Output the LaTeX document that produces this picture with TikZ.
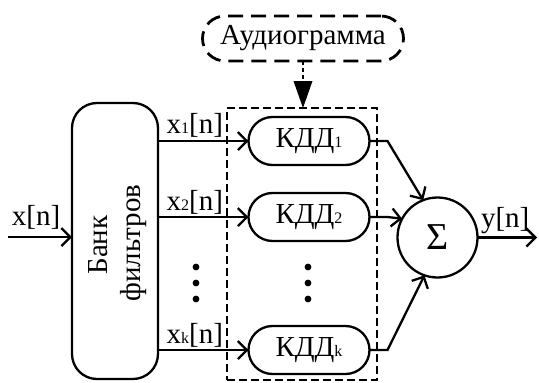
\documentclass[tikz,border=0pt]{standalone}
\usepackage{fontspec}
\setmainfont{Liberation Serif}
\usetikzlibrary{arrows.meta,calc}
\newcommand\smallsub[1]{{\fontsize{16}{16}\selectfont #1}}
\begin{document}
\begin{tikzpicture}[x=1pt,y=-1pt,
  every node/.style={font=\fontsize{29}{33}\selectfont, inner sep=0pt, outer sep=0pt},
  main/.style={line width=2.3pt},
  arr/.style={main, -{Straight Barb[length=9pt,width=18pt]}},
  kdd/.style={draw, line width=2.3pt, minimum width=121pt, minimum height=48pt, rounded corners=24pt},
  fbank/.style={draw, line width=2.3pt, minimum width=86pt, minimum height=276pt, rounded corners=25pt},
  audbox/.style={draw, line width=2.8pt, dash pattern=on 15pt off 8pt, minimum width=201pt, minimum height=45pt, rounded corners=22.5pt},
  grpbox/.style={draw, line width=1.2pt, dash pattern=on 8pt off 4pt, minimum width=150pt, minimum height=272pt},
  sumnode/.style={draw, circle, line width=2.3pt, minimum size=80pt},
  lbl/.style={anchor=base east},
  dot/.style={fill=black},
  ctlshaft/.style={line width=2.8pt, dash pattern=on 4pt off 3pt},
  ctlhead/.style={fill=black}
]
\useasboundingbox (0,0) rectangle (539,383);

% nodes
\node[fbank] (fb) at (115,241) {};
\node[rotate=90, anchor=base] (fbt1) at (107,245) {Банк};
\node[rotate=90, anchor=base] (fbt2) at (140,243) {фильтров};

\node[grpbox] (grp) at (302,244) {};
\node[audbox] (aud) at (303,38.5) {Аудиограмма};

\node[kdd] (k1) at (309,141) {КДД\smallsub{1}};
\node[kdd] (k2) at (309,217) {КДД\smallsub{2}};
\node[kdd] (kk) at (309,350) {КДД\smallsub{k}};

\node[sumnode, font=\fontsize{38}{38}\selectfont] (sum) at (437.5,237.5) {Σ};

\coordinate (in) at (8,237);
\coordinate (out) at (537,237.5);

% input
\draw[arr] (in) -- (in -| fb.west);
\node[anchor=base west] (lx) at (12,225) {x[n]};

% filter outputs
\draw[arr] (fb.east |- k1.west) -- (k1.west);
\draw[arr] (fb.east |- k2.west) -- (k2.west);
\draw[arr] (fb.east |- kk.west) -- (kk.west);
\node[lbl] (l1) at (223,133) {x\smallsub{1}[n]};
\node[lbl] (l2) at (223,210) {x\smallsub{2}[n]};
\node[lbl] (lk) at (223,343) {x\smallsub{k}[n]};

% dots
\fill[dot] (196,267) circle (3.4pt) (196,283) circle (3.4pt) (196,299) circle (3.4pt);
\fill[dot] (308,267) circle (3.4pt) (308,283) circle (3.4pt) (308,299) circle (3.4pt);

% to sum
\draw[arr] (k1.east) -- ++(18,0) -- (sum.111);
\draw[arr] (k2.east) -- ++(18,0) -- (sum.152);
\draw[arr] (kk.east) -- ++(18,0) -- (sum.251);

% output
\draw[arr] (sum.east) -- (out);
\node[anchor=base west] (ly) at (481,227) {y[n]};

% audiogram arrow
\coordinate (tip) at (aud.south |- grp.north);
\draw[ctlshaft] (aud.south) -- ($(tip)+(0,-26)$);
\fill[ctlhead] (tip) -- ($(tip)+(-9.5,-27)$) -- ($(tip)+(9.5,-27)$) -- cycle;
\end{tikzpicture}
\end{document}
